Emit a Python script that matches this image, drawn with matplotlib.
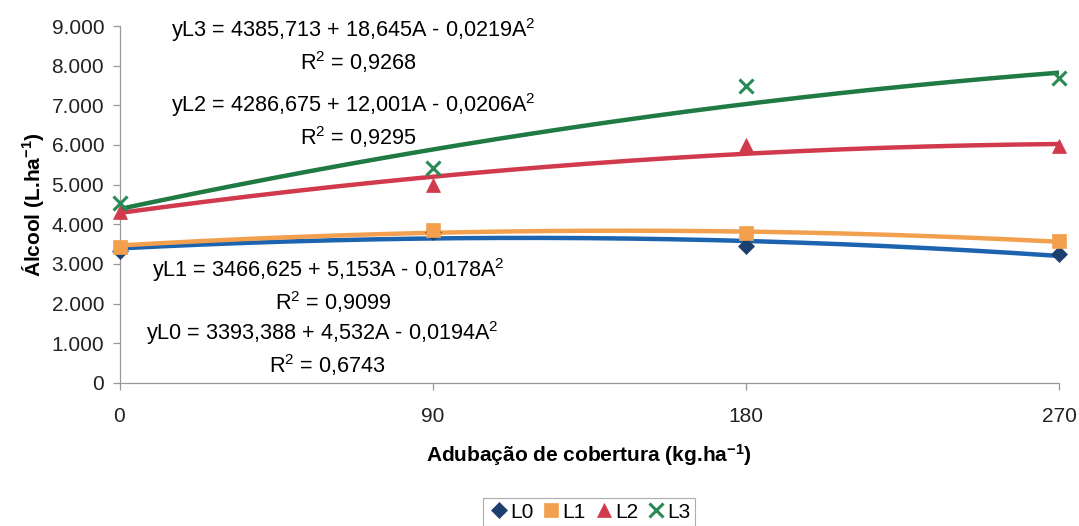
import matplotlib
matplotlib.use("Agg")
import matplotlib.pyplot as plt
import numpy as np
from matplotlib.ticker import FuncFormatter

plt.rcParams["font.family"] = ["Liberation Sans", "DejaVu Sans"]
plt.rcParams["mathtext.fontset"] = "custom"
plt.rcParams["mathtext.rm"] = "Liberation Sans"
plt.rcParams["mathtext.it"] = "Liberation Sans:italic"
plt.rcParams["mathtext.bf"] = "Liberation Sans:bold"
plt.rcParams["mathtext.default"] = "regular"

# nitrogen dose (kg/ha) and alcohol yield (L/ha) per level
doses = [0, 90, 180, 270]
series = ["L0", "L1", "L2", "L3"]
yield_l0 = [3330, 3800, 3450, 3260]
yield_l1 = [3430, 3850, 3790, 3590]
yield_l2 = [4300, 4980, 6000, 5980]
yield_l3 = [4530, 5420, 7500, 7680]

# quadratic fits: (intercept, linear, quadratic, R2)
fit_l0 = (3393.388, 4.532, -0.0194, 0.6743)
fit_l1 = (3466.625, 5.153, -0.0178, 0.9099)
fit_l2 = (4286.675, 12.001, -0.0206, 0.9295)
fit_l3 = (4385.713, 18.645, -0.0219, 0.9268)

values = [yield_l0, yield_l1, yield_l2, yield_l3]
fits = [fit_l0, fit_l1, fit_l2, fit_l3]
line_colors = ["#1c63b0", "#f2a04e", "#d03a4c", "#1f7a44"]
mark_colors = ["#1d3f6e", "#f2a04e", "#d03a4c", "#2a8a55"]
markers = ["D", "s", "^", "x"]
msizes = [8, 10, 10, 10]

FS = 15
W, H = 1079, 526

fig, ax = plt.subplots(figsize=(W / 100, H / 100), dpi=100)
fig.subplots_adjust(left=119.5 / W, right=1059 / W,
                    bottom=1 - 383 / H, top=1 - 26 / H)

a = np.linspace(doses[0], doses[-1], 200)
for name, vals, (b0, b1, b2, _), lc, mc, m, ms in zip(
        series, values, fits, line_colors, mark_colors, markers, msizes):
    ax.plot(a, b0 + b1 * a + b2 * a ** 2, color=lc, lw=3.2, zorder=2)
    ax.plot(doses, vals, ls="none", marker=m, ms=ms, color=mc,
            mew=2.2 if m == "x" else 0.5, label=name, zorder=3,
            clip_on=False)


def fmt_num(v, nd):
    return f"{v:.{nd}f}".replace(".", ",")


# equation line and R2 line for each fit, positioned in figure pixels
eq_pos = {"L3": (353, 30, 62), "L2": (353, 105, 137),
          "L1": (328, 270, 302), "L0": (322, 333, 365)}
for name, (b0, b1, b2, r2) in zip(series, fits):
    x, y_eq, y_r2 = eq_pos[name]
    eq = (f"y{name} = {fmt_num(b0, 3)} + {fmt_num(b1, 3)}A - "
          f"{fmt_num(-b2, 4)}A$^2$")
    fig.text(x / W, 1 - y_eq / H, eq, ha="center", va="center",
             fontsize=FS + 0.6)
    fig.text(x / W + 0.005, 1 - y_r2 / H, f"R$^2$ = {fmt_num(r2, 4)}",
             ha="center", va="center", fontsize=FS + 0.6)

ax.set_xlim(0, 270)
ax.set_ylim(0, 9000)
ax.set_xticks(doses)
ax.set_yticks(np.arange(0, 9001, 1000))
ax.yaxis.set_major_formatter(FuncFormatter(lambda v, _: f"{v:,.0f}".replace(",", ".")))
ax.tick_params(labelsize=FS, labelcolor="#222222", length=5, width=0.9,
               color="#999999")
ax.tick_params(axis="x", pad=12)
ax.tick_params(axis="y", pad=6)
for s in ["top", "right"]:
    ax.spines[s].set_visible(False)
for s in ["left", "bottom"]:
    ax.spines[s].set_color("#999999")
    ax.spines[s].set_linewidth(0.9)

ax.set_xlabel(r"Adubação de cobertura (kg.ha$^{-1}$)", fontsize=FS,
              fontweight="bold", labelpad=12)
ax.set_ylabel(r"Álcool (L.ha$^{-1}$)", fontsize=FS, fontweight="bold",
              labelpad=4)

leg = fig.legend(loc="center", bbox_to_anchor=(589 / W, 1 - 512 / H),
                 ncol=4, fontsize=FS, frameon=True, fancybox=False,
                 handletextpad=0.0, columnspacing=0.3, handlelength=1.1,
                 borderpad=0.2, borderaxespad=0.0, edgecolor="#999999")
leg.get_frame().set_linewidth(0.8)

fig.savefig("out.png", dpi=100)
